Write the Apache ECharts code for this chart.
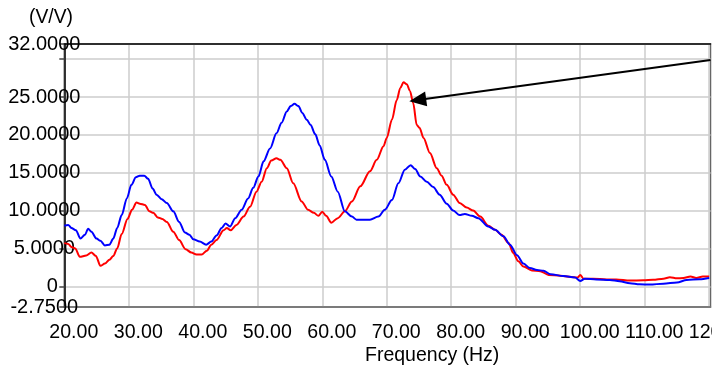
<!DOCTYPE html>
<html>
<head>
<meta charset="utf-8">
<script src="https://cdn.jsdelivr.net/npm/echarts@6/dist/echarts.min.js"></script>
<style>
html,body{margin:0;padding:0;background:#fff;}
#chart{width:712px;height:375px;}
</style>
</head>
<body>
<div id="chart"></div>
<script>
// ---- data ----
var redFreq = [20.0,20.6,21.1,21.7,22.4,23.4,24.2,24.9,25.6,26.3,27.0,27.6,28.2,28.9,29.8,30.5,31.2,31.7,32.5,33.2,33.8,34.5,35.2,35.9,36.9,37.8,38.8,39.7,40.5,41.3,42.1,42.8,43.6,44.7,45.2,45.8,46.7,47.8,48.8,49.8,50.6,51.4,52.1,52.9,53.5,54.5,55.5,56.8,57.8,58.7,59.4,60.0,60.6,61.4,62.4,63.5,64.6,65.9,67.4,68.45,69.5,70.0,70.8,71.55,72.1,72.6,73.1,73.6,74.1,74.65,75.1,75.7,76.7,77.75,78.5,79.3,80.3,81.3,82.4,83.4,84.5,85.75,86.8,87.8,88.9,89.6,90.4,91.2,92.5,93.8,95.1,96.9,99.0,99.6,100.0,100.5,102.0,104.1,105.6,107.7,109.8,111.3,112.9,113.9,115.0,116.0,117.1,118.0,119.0,120.0];
var redVals = [5.7,5.6,5.2,5.0,3.9,4.05,4.45,4.0,2.7,3.0,3.5,4.0,5.0,6.9,8.9,10.1,11.05,10.9,10.75,9.9,9.7,9.1,8.9,8.5,7.2,6.1,4.9,4.45,4.2,4.2,4.7,5.5,6.1,7.4,7.7,7.4,8.1,9.2,10.5,12.5,13.8,15.6,16.6,16.9,16.7,15.6,13.6,11.2,10.1,9.7,9.3,9.85,9.3,8.4,9.0,9.9,11.2,13.2,15.2,16.7,18.5,19.6,22.0,24.6,26.2,26.95,26.7,25.8,24.2,21.3,20.9,19.6,17.6,15.6,14.6,13.4,12.1,11.0,10.4,10.0,9.2,8.0,7.45,6.8,5.7,4.4,3.3,2.6,2.1,2.0,1.5,1.4,1.2,1.15,1.5,1.0,1.0,0.9,0.9,0.75,0.8,0.85,1.0,1.2,1.05,1.1,1.3,1.1,1.3,1.3];
var blueFreq = [20.0,20.6,21.1,21.8,22.5,23.2,23.7,24.2,25.0,25.6,26.3,27.0,27.6,28.2,28.9,29.7,30.4,31.1,31.7,32.4,33.0,33.7,34.3,35.1,35.9,36.9,37.8,38.7,39.4,40.0,41.0,42.0,42.8,43.6,44.4,45.0,45.7,46.5,47.5,48.5,49.3,50.1,50.9,51.9,52.9,53.7,54.5,55.1,55.7,56.3,56.9,57.6,58.2,58.9,59.6,60.4,61.4,62.4,63.5,64.6,65.3,67.4,68.7,69.7,70.8,71.8,72.8,73.7,74.4,75.2,76.2,77.2,78.2,79.3,80.3,81.3,82.1,83.2,84.2,85.75,86.8,88.1,89.1,90.2,91.2,92.2,93.3,94.3,95.4,97.4,99.2,100.0,100.7,102.5,104.6,106.1,107.7,109.2,110.8,112.9,115.0,116.5,118.5,120.0];
var blueVals = [8.0,8.1,7.7,7.4,6.3,6.8,7.6,7.2,6.3,6.0,5.4,5.5,6.3,7.7,9.4,11.6,13.4,14.4,14.6,14.6,14.2,12.9,12.1,11.5,11.0,9.9,8.5,7.1,6.8,6.2,5.9,5.5,5.9,6.7,7.7,8.3,7.9,9.0,10.1,11.6,13.0,14.5,16.5,18.2,20.2,21.6,23.1,23.8,24.1,23.8,22.9,22.0,21.3,20.1,18.6,16.7,14.5,12.5,9.9,9.2,8.8,8.8,9.2,10.1,11.4,13.6,15.4,16.0,15.5,14.5,13.8,13.1,12.1,10.9,10.0,9.4,9.55,9.3,9.0,7.9,7.45,6.6,5.5,4.1,3.0,2.4,2.15,2.05,1.6,1.35,1.15,0.7,1.0,0.9,0.84,0.66,0.4,0.26,0.22,0.35,0.5,0.84,0.93,1.1];
var xTicks = [20,30,40,50,60,70,80,90,100,110,120];
var yTickValues = [-2.75,0,5,10,15,20,25,30,32];
var yLabelValues = [-2.75,5,10,15,20,25,32];
var yZeroLabel = [0];
var arrowFrom = [120.2, 29.9];
var arrowTo = [74.8, 24.6];

function zip(a, b) { return a.map(function (v, i) { return [v, b[i]]; }); }

var FONT = "'Liberation Sans', Arial, sans-serif";
var chart = echarts.init(document.getElementById('chart'), null, {renderer: 'canvas'});
chart.setOption({
  animation: false,
  backgroundColor: '#fff',
  grid: {left: 64.3, right: 1.5, top: 44, bottom: 67.9, show: true, borderColor: '#666', borderWidth: 1.5,
    backgroundColor: 'transparent', containLabel: false, outerBoundsMode: 'none'},
  xAxis: [{
    type: 'value', min: 20, max: 120.2, position: 'bottom',
    axisLine: {show: true, onZero: false, lineStyle: {color: '#666', width: 1.5}},
    axisTick: {show: false, customValues: xTicks},
    splitLine: {show: true, lineStyle: {color: '#cccccc', width: 1.5}},
    axisLabel: {customValues: xTicks, margin: 15, padding: [0, 0, 0, 19], color: '#000', fontSize: 19.6, fontFamily: FONT, hideOverlap: false,
      formatter: function (v) { return v.toFixed(2); }}
  }, {
    type: 'value', position: 'top', min: 0, max: 1,
    axisLine: {show: true, onZero: false, lineStyle: {color: '#000', width: 1.5}},
    axisTick: {show: false}, axisLabel: {show: false}, splitLine: {show: false}
  }],
  yAxis: [{
    type: 'value', min: -2.75, max: 32, position: 'left',
    axisLine: {show: true, onZero: false, lineStyle: {color: '#000', width: 1.5}},
    axisTick: {show: true, length: 5, customValues: yTickValues, lineStyle: {color: '#444', width: 1.5}},
    splitLine: {show: true, lineStyle: {color: '#cccccc', width: 1.5}},
    axisLabel: {customValues: yLabelValues, margin: 20, align: 'center', color: '#000', fontSize: 20, fontFamily: FONT, hideOverlap: false,
      formatter: function (v) { return v.toFixed(4); }}
  }, {
    type: 'value', min: -2.75, max: 32, position: 'left', offset: 0,
    axisLine: {show: false, onZero: false}, axisTick: {show: false, customValues: yZeroLabel}, splitLine: {show: false},
    axisLabel: {customValues: yZeroLabel, margin: 12, align: 'center', color: '#000', fontSize: 20, fontFamily: FONT, hideOverlap: false,
      formatter: function (v) { return String(v); }}
  }],
  graphic: [
    {type: 'text', left: 29, top: 8, style: {text: '(V/V)', font: "19.3px 'Liberation Sans', Arial, sans-serif", fill: '#000'}},
    {type: 'text', left: 365, top: 346, style: {text: 'Frequency (Hz)', font: "19.5px 'Liberation Sans', Arial, sans-serif", fill: '#000'}}
  ],
  series: [{
    type: 'line', name: 'red', data: zip(redFreq, redVals), showSymbol: false, smooth: 0.3, smoothMonotone: 'x',
    lineStyle: {color: '#ff0000', width: 2}, itemStyle: {color: '#ff0000'}, clip: false
  }, {
    type: 'line', name: 'blue', data: zip(blueFreq, blueVals), showSymbol: false, smooth: 0.3, smoothMonotone: 'x',
    lineStyle: {color: '#0000ff', width: 2}, itemStyle: {color: '#0000ff'}, clip: false,
    markLine: {
      silent: true, animation: false, symbol: ['none', 'triangle'], symbolSize: 17,
      label: {show: false},
      lineStyle: {color: '#000', width: 2, type: 'solid'},
      data: [[{coord: arrowFrom, symbol: 'none'}, {coord: arrowTo, symbol: 'triangle', symbolSize: [15, 17]}]]
    }
  }]
});
</script>
</body>
</html>
